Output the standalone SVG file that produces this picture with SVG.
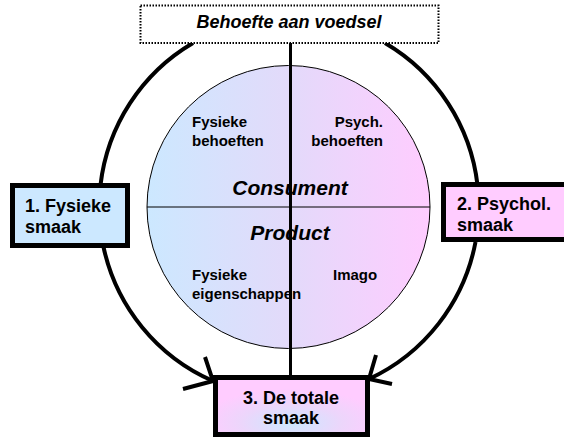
<svg xmlns="http://www.w3.org/2000/svg" width="564" height="439" viewBox="0 0 564 439">
  <defs>
    <linearGradient id="gCircle" x1="0" y1="0" x2="1" y2="0">
      <stop offset="0" stop-color="#cce8ff"/>
      <stop offset="0.5" stop-color="#e3dafa"/>
      <stop offset="1" stop-color="#ffccff"/>
    </linearGradient>
    <radialGradient id="gBox3" cx="0.5" cy="0.8" r="0.6">
      <stop offset="0" stop-color="#cce8ff"/>
      <stop offset="0.55" stop-color="#ecd6fb"/>
      <stop offset="1" stop-color="#ffccff"/>
    </radialGradient>
  </defs>
  <style>
    .box { stroke: #000; stroke-width: 5; }
    .lbl { font-family: "Liberation Sans", Arial, sans-serif; font-weight: bold; fill: #000; }
    .big { font-size: 18px; }
    .small { font-size: 15px; }
    .ital { font-style: italic; }
    .arc { fill: none; stroke: #000; stroke-width: 4; }
    .barb { fill: none; stroke: #000; stroke-width: 4; stroke-linecap: butt; stroke-linejoin: miter; }
  </style>

  <g id="circle">
    <circle cx="288.5" cy="207" r="141.5" fill="url(#gCircle)" stroke="#000" stroke-width="1"/>
    <line x1="147" y1="207" x2="430" y2="207" stroke="#000" stroke-width="1"/>
    <text class="lbl small" x="192" y="127">Fysieke</text>
    <text class="lbl small" x="192" y="146">behoeften</text>
    <text class="lbl small" x="383" y="127" text-anchor="end">Psych.</text>
    <text class="lbl small" x="383" y="146" text-anchor="end">behoeften</text>
    <text class="lbl ital" style="font-size:21px" x="290" y="195" text-anchor="middle">Consument</text>
    <text class="lbl ital" style="font-size:21px" x="290" y="240" text-anchor="middle">Product</text>
    <text class="lbl small" x="192" y="280">Fysieke</text>
    <text class="lbl small" x="192" y="299">eigenschappen</text>
    <text class="lbl small" x="333" y="280">Imago</text>
  </g>

  <g id="connectors">
    <path class="arc" d="M 193 43 A 190 190 0 0 0 100.5 185"/>
    <path class="arc" d="M 103.5 247 A 190 190 0 0 0 213 381"/>
    <polyline class="barb" points="205,357 213,381 183,389"/>
    <path class="arc" d="M 385 43 A 190 190 0 0 1 477.5 185"/>
    <path class="arc" d="M 475.5 242 A 190 190 0 0 1 369 379"/>
    <polyline class="barb" points="376,355 369,379 392,384"/>
    <line x1="290.5" y1="43" x2="290.5" y2="378" stroke="#000" stroke-width="3"/>
    <polygon points="284.5,377 296.5,377 290.5,388" fill="#000"/>
  </g>

  <g id="need">
    <rect x="140.5" y="5.5" width="298" height="37.5" fill="#fff" stroke="#000" stroke-width="2" stroke-dasharray="1.5 1.5"/>
    <text class="lbl big ital" x="289" y="28" text-anchor="middle">Behoefte aan voedsel</text>
  </g>

  <g id="box1">
    <rect class="box" x="12.5" y="185.5" width="115" height="60" fill="#cce8ff"/>
    <text class="lbl big" x="25" y="212">1. Fysieke</text>
    <text class="lbl big" x="25" y="233">smaak</text>
  </g>

  <g id="box2">
    <rect class="box" x="443.5" y="184.5" width="130" height="55" fill="#ffccff"/>
    <text class="lbl big" x="457" y="210">2. Psychol.</text>
    <text class="lbl big" x="457" y="231">smaak</text>
  </g>

  <g id="box3">
    <rect class="box" x="215.5" y="377.5" width="152" height="57" fill="url(#gBox3)"/>
    <text class="lbl big" x="291" y="404" text-anchor="middle">3. De totale</text>
    <text class="lbl big" x="291" y="424" text-anchor="middle">smaak</text>
  </g>
</svg>
